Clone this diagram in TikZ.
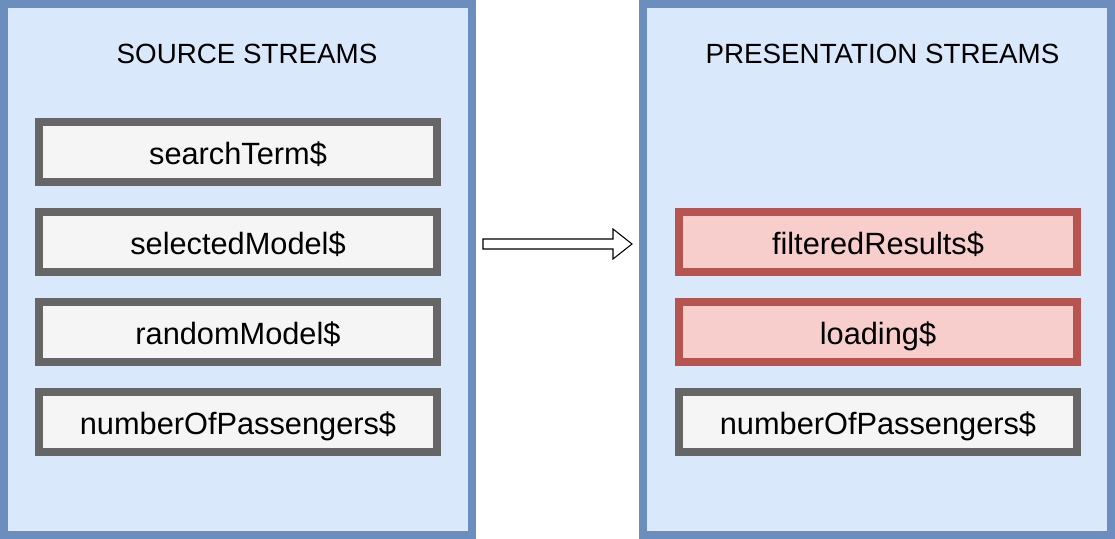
\documentclass[tikz,border=0pt]{standalone}
\usepackage{fontspec}
\setmainfont{Liberation Sans}
\usetikzlibrary{calc}
\definecolor{panelfill}{HTML}{DAE8FC}
\definecolor{paneledge}{HTML}{6C8EBF}
\definecolor{plainfill}{HTML}{F5F5F5}
\definecolor{plainedge}{HTML}{666666}
\definecolor{hotfill}{HTML}{F8CECC}
\definecolor{hotedge}{HTML}{B85450}

\begin{document}
\begin{tikzpicture}[
  panel/.style={rectangle, draw=paneledge, fill=panelfill, line width=4.5pt,
    minimum width=9.36cm, minimum height=10.62cm, inner sep=0},
  title/.style={anchor=base, font=\fontsize{15.8}{19}\selectfont},
  streambox/.style={rectangle, line width=4.5pt, minimum width=7.96cm,
    minimum height=1.2cm, inner sep=0, text height=0.6cm, text depth=0.08cm,
    font=\fontsize{17.5}{21}\selectfont},
  plainbox/.style={streambox, draw=plainedge, fill=plainfill},
  hotbox/.style={streambox, draw=hotedge, fill=hotfill},
  hollow/.style={draw=black, fill=white, line width=0.6pt, line join=miter}
]

\useasboundingbox (0,0) rectangle (22.3,-10.78);

\def\rh{1.8}

\node[panel] (src) at (4.76cm,-5.39cm) {};
\node[panel] (pres) at (17.54cm,-5.39cm) {};

\node[title] (srctitle) at (4.94cm,-1.28cm) {SOURCE STREAMS};
\node[title] (prestitle) at (17.65cm,-1.28cm) {PRESENTATION STREAMS};

% left column: all rows plain
\foreach \r/\name in {0/searchTerm, 1/selectedModel, 2/randomModel,
  3/numberOfPassengers}{
  \pgfmathsetmacro{\ry}{-3.04-\r*\rh}
  \node[plainbox] (src\r) at (4.76cm,\ry cm) {\name\$};
}

% right column: rows 1 to 3, first two derived
\foreach \r/\name/\kind in {1/filteredResults/hotbox, 2/loading/hotbox,
  3/numberOfPassengers/plainbox}{
  \pgfmathsetmacro{\ry}{-3.04-\r*\rh}
  \node[\kind] (out\r) at (17.56cm,\ry cm) {\name\$};
}

\coordinate (tail) at (9.66cm,-4.88cm);
\coordinate (tip) at (12.64cm,-4.88cm);
\draw[hollow] ($(tail)+(0,0.1)$) -- ($(tip)+(-0.38,0.1)$)
  -- ($(tip)+(-0.38,0.3)$) -- (tip) -- ($(tip)+(-0.38,-0.3)$)
  -- ($(tip)+(-0.38,-0.1)$) -- ($(tail)+(0,-0.1)$) -- cycle;

\end{tikzpicture}
\end{document}
